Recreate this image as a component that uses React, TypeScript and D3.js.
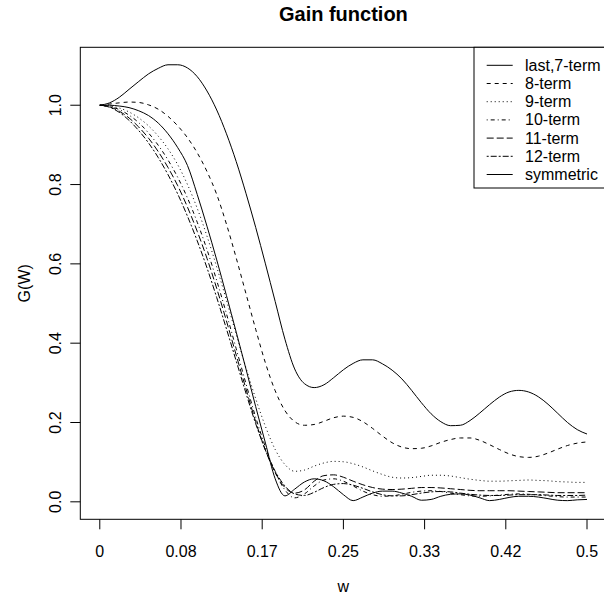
import React from 'react';
import * as d3 from 'd3';

// frequency grid (cycles per unit), step 0.01
const freq = d3.range(0, 51).map((i) => i / 100);

const last7 = [1.000, 1.006, 1.020, 1.040, 1.060, 1.079, 1.093, 1.102, 1.102, 1.094,
  1.072, 1.036, 0.988, 0.928, 0.858, 0.778, 0.692, 0.600, 0.505, 0.410,
  0.335, 0.298, 0.288, 0.295, 0.313, 0.333, 0.349, 0.358, 0.358, 0.348,
  0.332, 0.310, 0.281, 0.250, 0.222, 0.202, 0.192, 0.193, 0.205, 0.224,
  0.245, 0.264, 0.277, 0.281, 0.277, 0.265, 0.246, 0.223, 0.200, 0.182, 0.171];

const term8 = [1.000, 1.003, 1.006, 1.008, 1.007, 1.001, 0.990, 0.972, 0.948, 0.918,
  0.880, 0.833, 0.775, 0.700, 0.615, 0.525, 0.435, 0.350, 0.280, 0.230,
  0.202, 0.193, 0.195, 0.203, 0.212, 0.216, 0.213, 0.202, 0.185, 0.166,
  0.149, 0.138, 0.134, 0.135, 0.141, 0.150, 0.157, 0.161, 0.161, 0.155,
  0.144, 0.132, 0.121, 0.114, 0.112, 0.115, 0.123, 0.133, 0.142, 0.148, 0.151];

const term9 = [1.000, 0.998, 0.993, 0.983, 0.968, 0.948, 0.922, 0.890, 0.850, 0.800,
  0.740, 0.670, 0.592, 0.508, 0.422, 0.338, 0.260, 0.190, 0.132, 0.094,
  0.077, 0.080, 0.090, 0.098, 0.102, 0.101, 0.096, 0.088, 0.078, 0.069,
  0.062, 0.060, 0.061, 0.064, 0.067, 0.067, 0.065, 0.061, 0.057, 0.054,
  0.052, 0.052, 0.053, 0.054, 0.055, 0.054, 0.053, 0.051, 0.050, 0.049, 0.049];

const term10 = [1.000, 0.997, 0.989, 0.975, 0.956, 0.930, 0.899, 0.862, 0.818, 0.766,
  0.705, 0.636, 0.558, 0.474, 0.386, 0.298, 0.213, 0.138, 0.075, 0.030,
  0.010, 0.020, 0.040, 0.055, 0.058, 0.052, 0.040, 0.027, 0.018, 0.014,
  0.015, 0.019, 0.024, 0.027, 0.028, 0.026, 0.022, 0.018, 0.015, 0.014,
  0.015, 0.017, 0.019, 0.020, 0.019, 0.017, 0.015, 0.013, 0.012, 0.012, 0.012];

const term11 = [1.000, 0.996, 0.985, 0.968, 0.945, 0.917, 0.883, 0.843, 0.797, 0.743,
  0.682, 0.614, 0.538, 0.456, 0.370, 0.285, 0.202, 0.130, 0.074, 0.036,
  0.022, 0.030, 0.052, 0.066, 0.068, 0.062, 0.052, 0.043, 0.036, 0.032,
  0.031, 0.032, 0.034, 0.036, 0.036, 0.035, 0.033, 0.031, 0.029, 0.028,
  0.028, 0.028, 0.028, 0.027, 0.026, 0.025, 0.024, 0.023, 0.023, 0.023, 0.023];

const term12 = [1.000, 0.995, 0.982, 0.962, 0.936, 0.905, 0.868, 0.825, 0.776, 0.720,
  0.658, 0.590, 0.515, 0.436, 0.355, 0.274, 0.197, 0.130, 0.077, 0.040,
  0.020, 0.016, 0.024, 0.036, 0.044, 0.046, 0.042, 0.034, 0.025, 0.018,
  0.015, 0.015, 0.018, 0.022, 0.025, 0.026, 0.025, 0.022, 0.019, 0.017,
  0.016, 0.016, 0.017, 0.018, 0.018, 0.018, 0.017, 0.016, 0.016, 0.016, 0.017];

const symmetric = [1.000, 1.000, 0.998, 0.994, 0.986, 0.974, 0.955, 0.928, 0.893, 0.848,
  0.775, 0.695, 0.610, 0.520, 0.428, 0.335, 0.240, 0.148, 0.058, 0.015,
  0.032, 0.050, 0.058, 0.053, 0.038, 0.018, 0.003, 0.012, 0.022, 0.027,
  0.027, 0.022, 0.014, 0.004, 0.006, 0.014, 0.019, 0.020, 0.017, 0.010,
  0.003, 0.006, 0.011, 0.014, 0.014, 0.012, 0.008, 0.004, 0.003, 0.005, 0.006];

const seriesNames = ['last,7-term', '8-term', '9-term', '10-term', '11-term', '12-term', 'symmetric'];
const seriesValues = [last7, term8, term9, term10, term11, term12, symmetric];
// R lty 1..6, then solid again
const dashes = [null, '4,4', '1,3', '1,3,4,3', '7,3', '2,2,6,2', null];

const xTickValues = [0, 1 / 12, 2 / 12, 3 / 12, 4 / 12, 5 / 12, 6 / 12];
const xTickLabels = ['0', '0.08', '0.17', '0.25', '0.33', '0.42', '0.5'];
const yTickValues = [0, 0.2, 0.4, 0.6, 0.8, 1.0];

const FONT = '"Liberation Sans", Arial, Helvetica, sans-serif';

export default function App() {
  const width = 604;
  const height = 596;
  const plot = { left: 80.3, right: 606.5, top: 47.3, bottom: 519.3 };

  const xr = [0, 0.5];
  const yr = [0, d3.max(seriesValues.flat()) as number];
  const xPad = (xr[1] - xr[0]) * 0.04;
  const yPad = (yr[1] - yr[0]) * 0.04;

  const x = d3.scaleLinear().domain([xr[0] - xPad, xr[1] + xPad]).range([plot.left, plot.right]);
  const y = d3.scaleLinear().domain([yr[0] - yPad, yr[1] + yPad]).range([plot.bottom, plot.top]);

  const line = d3.line<number>()
    .x((_, i) => x(freq[i]))
    .y((d) => y(d))
    .curve(d3.curveMonotoneX);

  const tick = 10;
  const legX = 474;
  const legY0 = 65.3;
  const legStep = 18.2;

  return (
    <svg width={width} height={height} style={{ position: 'absolute', left: 0, top: 0, background: 'white' }}
      fontFamily={FONT}>
      <text x={343.4} y={21} textAnchor="middle" fontSize={20} fontWeight="bold">Gain function</text>

      <g fill="none" stroke="black" strokeWidth={1}>
        {seriesValues.map((vals, k) => (
          <path key={k} d={line(vals) ?? ''} strokeDasharray={dashes[k] ?? undefined} />
        ))}
      </g>

      <rect x={plot.left} y={plot.top} width={plot.right - plot.left} height={plot.bottom - plot.top}
        fill="none" stroke="black" strokeWidth={1} />

      {/* x axis */}
      <g stroke="black" strokeWidth={1}>
        {xTickValues.map((v, i) => (
          <line key={i} x1={x(v)} x2={x(v)} y1={plot.bottom} y2={plot.bottom + tick} />
        ))}
      </g>
      {xTickValues.map((v, i) => (
        <text key={i} x={x(v)} y={557} textAnchor="middle" fontSize={16}>{xTickLabels[i]}</text>
      ))}
      <text x={343.4} y={592} textAnchor="middle" fontSize={16}>w</text>

      {/* y axis */}
      <g stroke="black" strokeWidth={1}>
        {yTickValues.map((v, i) => (
          <line key={i} x1={plot.left - tick} x2={plot.left} y1={y(v)} y2={y(v)} />
        ))}
      </g>
      {yTickValues.map((v, i) => (
        <text key={i} transform={`translate(61,${y(v)}) rotate(-90)`} textAnchor="middle" fontSize={16}>
          {d3.format('.1f')(v)}
        </text>
      ))}
      <text transform={`translate(30,${(plot.top + plot.bottom) / 2}) rotate(-90)`} textAnchor="middle" fontSize={16}>G(W)</text>

      {/* legend */}
      <rect x={legX} y={plot.top} width={plot.right - legX} height={188 - plot.top} fill="white" stroke="black" strokeWidth={1} />
      {seriesNames.map((name, k) => (
        <g key={name}>
          <line x1={486.7} x2={512.7} y1={legY0 + k * legStep} y2={legY0 + k * legStep}
            stroke="black" strokeWidth={1} strokeDasharray={dashes[k] ?? undefined} />
          <text x={525} y={legY0 + k * legStep + 5.5} fontSize={16}>{name}</text>
        </g>
      ))}
    </svg>
  );
}
